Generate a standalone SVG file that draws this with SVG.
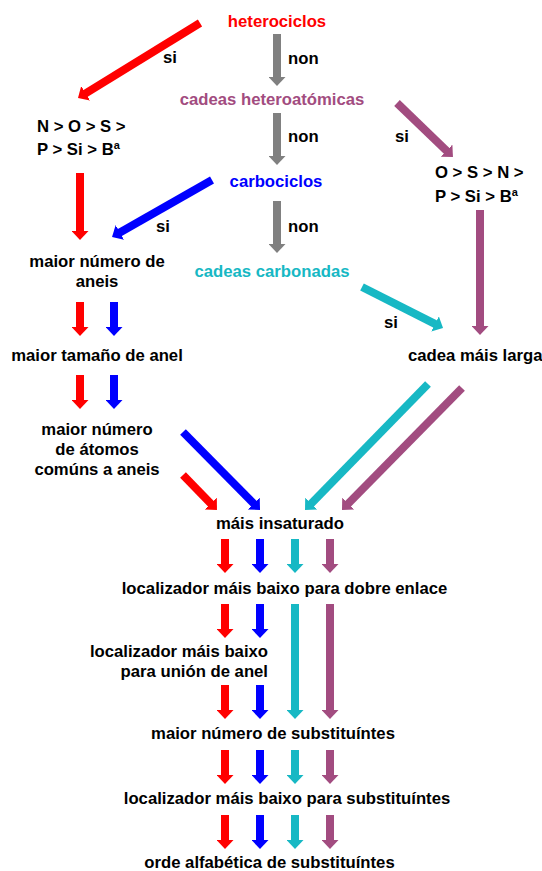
<svg xmlns="http://www.w3.org/2000/svg" width="542" height="871" viewBox="0 0 542 871">
<style>
text{font-family:"Liberation Sans",Arial,sans-serif;font-weight:bold;font-size:16.7px;fill:#000}
.m{text-anchor:middle}
.e{text-anchor:end}
.red{fill:#FF0000}.blue{fill:#0000FF}.cyan{fill:#17B8C4}.purple{fill:#A24C80}
line{stroke-width:8;fill:none}
.lr{stroke:#FF0000;marker-end:url(#hr)}
.lb{stroke:#0000FF;marker-end:url(#hb)}
.lg{stroke:#808080;marker-end:url(#hg)}
.lc{stroke:#17B8C4;marker-end:url(#hc)}
.lp{stroke:#A24C80;marker-end:url(#hp)}
</style>
<defs>
<marker id="hr" markerUnits="userSpaceOnUse" markerWidth="9" markerHeight="17" refX="1" refY="8.5" orient="auto"><path d="M0,0 L9,8.5 L0,17 z" fill="#FF0000"/></marker>
<marker id="hb" markerUnits="userSpaceOnUse" markerWidth="9" markerHeight="17" refX="1" refY="8.5" orient="auto"><path d="M0,0 L9,8.5 L0,17 z" fill="#0000FF"/></marker>
<marker id="hg" markerUnits="userSpaceOnUse" markerWidth="9" markerHeight="17" refX="1" refY="8.5" orient="auto"><path d="M0,0 L9,8.5 L0,17 z" fill="#808080"/></marker>
<marker id="hc" markerUnits="userSpaceOnUse" markerWidth="9" markerHeight="17" refX="1" refY="8.5" orient="auto"><path d="M0,0 L9,8.5 L0,17 z" fill="#17B8C4"/></marker>
<marker id="hp" markerUnits="userSpaceOnUse" markerWidth="9" markerHeight="17" refX="1" refY="8.5" orient="auto"><path d="M0,0 L9,8.5 L0,17 z" fill="#A24C80"/></marker>
</defs>
<rect width="542" height="871" fill="#fff"/>
<g id="connectors">
<line class="lg" x1="277" y1="34" x2="277" y2="78"/>
<line class="lg" x1="277" y1="113" x2="277" y2="157"/>
<line class="lg" x1="277" y1="201" x2="277" y2="245"/>
<line class="lr" x1="200" y1="23" x2="84.8" y2="93.8"/>
<line class="lp" x1="397" y1="103" x2="447.2" y2="151.4"/>
<line class="lr" x1="80" y1="173" x2="80" y2="232"/>
<line class="lb" x1="212" y1="180" x2="119" y2="233"/>
<line class="lc" x1="362" y1="287" x2="435.9" y2="324.4"/>
<line class="lp" x1="480" y1="210" x2="480" y2="327"/>
<line class="lr" x1="80" y1="302" x2="80" y2="328"/>
<line class="lb" x1="114" y1="302" x2="114" y2="328"/>
<line class="lr" x1="80" y1="375" x2="80" y2="401"/>
<line class="lb" x1="114" y1="375" x2="114" y2="401"/>
<line class="lb" x1="183" y1="432" x2="254.4" y2="504.3"/>
<line class="lr" x1="183" y1="475" x2="211.4" y2="504.3"/>
<line class="lc" x1="428" y1="384" x2="310.6" y2="504.3"/>
<line class="lp" x1="462" y1="388" x2="347.6" y2="504.3"/>
<line class="lr" x1="225" y1="539" x2="225" y2="565"/>
<line class="lb" x1="260" y1="539" x2="260" y2="565"/>
<line class="lc" x1="295" y1="539" x2="295" y2="565"/>
<line class="lp" x1="330" y1="539" x2="330" y2="565"/>
<line class="lr" x1="225" y1="604" x2="225" y2="630"/>
<line class="lb" x1="260" y1="604" x2="260" y2="630"/>
<line class="lc" x1="295" y1="604" x2="295" y2="711"/>
<line class="lp" x1="330" y1="604" x2="330" y2="711"/>
<line class="lr" x1="225" y1="685" x2="225" y2="711"/>
<line class="lb" x1="260" y1="685" x2="260" y2="711"/>
<line class="lr" x1="225" y1="750" x2="225" y2="776"/>
<line class="lb" x1="260" y1="750" x2="260" y2="776"/>
<line class="lc" x1="295" y1="750" x2="295" y2="776"/>
<line class="lp" x1="330" y1="750" x2="330" y2="776"/>
<line class="lr" x1="225" y1="815" x2="225" y2="841"/>
<line class="lb" x1="260" y1="815" x2="260" y2="841"/>
<line class="lc" x1="295" y1="815" x2="295" y2="841"/>
<line class="lp" x1="330" y1="815" x2="330" y2="841"/>
</g>
<g id="labels">
<text x="288" y="64">non</text>
<text x="288" y="142">non</text>
<text x="288" y="232">non</text>
<text x="163" y="63">si</text>
<text x="395" y="142">si</text>
<text x="156" y="232">si</text>
<text x="384" y="328">si</text>
</g>
<g id="heterociclos"><text class="m red" x="277" y="27">heterociclos</text></g>
<g id="cadeas-heteroatomicas"><text class="m purple" x="272" y="105">cadeas heteroatómicas</text></g>
<g id="orde-heterociclos"><text x="37" y="132">N &gt; O &gt; S &gt;</text><text x="37" y="155">P &gt; Si &gt; B<tspan dy="-6" font-size="11">a</tspan></text></g>
<g id="orde-cadeas"><text x="435" y="178">O &gt; S &gt; N &gt;</text><text x="435" y="202">P &gt; Si &gt; B<tspan dy="-6" font-size="11">a</tspan></text></g>
<g id="carbociclos"><text class="m blue" x="276" y="187">carbociclos</text></g>
<g id="maior-numero-aneis"><text class="m" x="97" y="267">maior número de</text><text class="m" x="97" y="287">aneis</text></g>
<g id="cadeas-carbonadas"><text class="m cyan" x="272" y="277">cadeas carbonadas</text></g>
<g id="maior-tamano"><text class="m" x="97" y="361">maior tamaño de anel</text></g>
<g id="cadea-mais-larga"><text x="408" y="361">cadea máis larga</text></g>
<g id="maior-numero-atomos"><text class="m" x="97" y="435">maior número</text><text class="m" x="97" y="455">de átomos</text><text class="m" x="97" y="475">comúns a aneis</text></g>
<g id="mais-insaturado"><text class="m" x="280" y="529">máis insaturado</text></g>
<g id="localizador-dobre"><text class="m" x="284.5" y="594">localizador máis baixo para dobre enlace</text></g>
<g id="localizador-union"><text class="e" x="268" y="657">localizador máis baixo</text><text class="e" x="268" y="677">para unión de anel</text></g>
<g id="maior-numero-subst"><text class="m" x="273" y="739">maior número de substituíntes</text></g>
<g id="localizador-subst"><text class="m" x="287" y="804">localizador máis baixo para substituíntes</text></g>
<g id="orde-alfabetica"><text class="m" x="269.5" y="868">orde alfabética de substituíntes</text></g>
</svg>
